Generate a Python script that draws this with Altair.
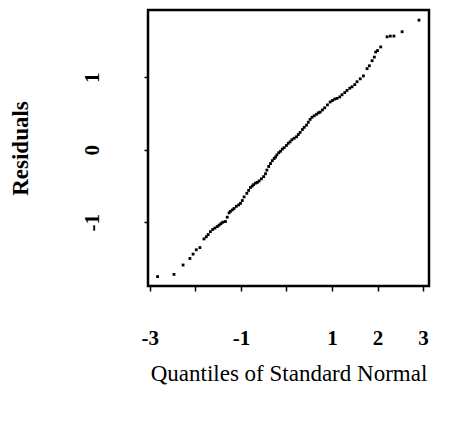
import altair as alt
import pandas as pd

qx = [-2.83,-2.47,-2.27,-2.12,-2.05,-1.98,-1.90,-1.81,-1.76,-1.72,-1.67,-1.62,-1.57,-1.52,-1.48,-1.44,-1.40,-1.34,-1.30,-1.26,-1.23,-1.19,-1.15,-1.10,-1.05,-1.01,-0.97,-0.93,-0.87,-0.83,-0.79,-0.75,-0.72,-0.68,-0.64,-0.60,-0.55,-0.50,-0.46,-0.43,-0.39,-0.35,-0.31,-0.27,-0.24,-0.21,-0.17,-0.13,-0.09,-0.05,0.00,0.04,0.08,0.12,0.17,0.22,0.26,0.30,0.35,0.39,0.44,0.48,0.52,0.56,0.61,0.66,0.70,0.74,0.79,0.84,0.90,0.96,1.01,1.06,1.11,1.17,1.22,1.28,1.33,1.39,1.44,1.50,1.55,1.62,1.69,1.77,1.82,1.88,1.93,1.96,2.00,2.07,2.21,2.28,2.36,2.54,2.91]
qy = [-1.75,-1.72,-1.59,-1.50,-1.44,-1.38,-1.35,-1.23,-1.20,-1.17,-1.13,-1.10,-1.08,-1.06,-1.04,-1.02,-1.00,-0.99,-0.93,-0.87,-0.85,-0.83,-0.81,-0.78,-0.76,-0.74,-0.70,-0.65,-0.60,-0.56,-0.52,-0.50,-0.48,-0.46,-0.45,-0.43,-0.40,-0.37,-0.33,-0.28,-0.23,-0.19,-0.15,-0.12,-0.10,-0.07,-0.04,-0.02,0.01,0.03,0.06,0.09,0.11,0.14,0.16,0.18,0.21,0.24,0.28,0.31,0.34,0.38,0.42,0.45,0.47,0.49,0.51,0.52,0.55,0.58,0.62,0.66,0.68,0.70,0.71,0.73,0.76,0.79,0.82,0.85,0.87,0.90,0.94,0.98,1.02,1.12,1.16,1.23,1.28,1.35,1.37,1.42,1.56,1.57,1.57,1.63,1.79]

df = pd.DataFrame({"q": qx, "r": qy})
font = "Liberation Serif"

chart = alt.Chart(df).mark_square(size=8, color="black", opacity=1).encode(
    x=alt.X("q:Q", scale=alt.Scale(domain=[-3.04, 3.13], nice=False, zero=False),
            axis=alt.Axis(values=[-3, -2, -1, 0, 1, 2, 3],
                          labelExpr="datum.value == -2 || datum.value == 0 ? '' : replace(datum.label, '−', '-')",
                          title="Quantiles of Standard Normal", grid=False, tickSize=5, tickWidth=1.5,
                          tickColor="black", domain=False, labelPadding=36, labelFontSize=21,
                          labelFontWeight="bold",
                          labelFont=font, labelColor="black", titleFont=font, titleFontSize=23,
                          titleFontWeight="normal", titleColor="black", titlePadding=14)),
    y=alt.Y("r:Q", scale=alt.Scale(domain=[-1.88, 1.93], nice=False, zero=False),
            axis=alt.Axis(values=[-1, 0, 1], title="Residuals", grid=False, tickSize=4, tickWidth=1.5,
                          labelExpr="replace(datum.label, '−', '-')",
                          tickColor="black", domain=False, labelAngle=270, labelAlign="center",
                          labelBaseline="middle", labelPadding=52, labelFontSize=21, labelFontWeight="bold",
                          labelFont=font, labelColor="black", titleFont=font, titleFontSize=23,
                          titleFontWeight="bold", titleColor="black", titleX=-128, titleY=138,
                          titleAlign="center", titleBaseline="middle", titleAngle=270)),
).properties(width=281, height=276, autosize=alt.AutoSizeParams(type="none"),
             padding={"left": 140, "top": 2, "right": 20, "bottom": 130}).configure(
    background="white").configure_view(stroke="black", strokeWidth=2.5)

chart.save("out.html", embed_options={"renderer": "svg", "actions": False})
